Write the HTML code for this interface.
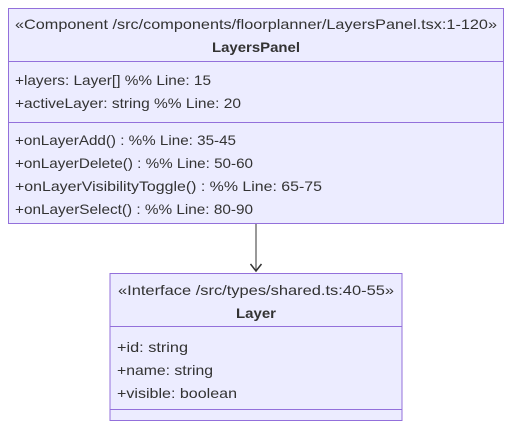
<!DOCTYPE html>
<html><head><meta charset="utf-8"><style>
html,body{margin:0;padding:0;background:#fff;}
svg{display:block;}
text{font-family:"Liberation Sans",sans-serif;font-size:14px;fill:#333;}
</style></head><body>
<svg width="520" height="435" viewBox="0 0 520 435" xmlns="http://www.w3.org/2000/svg">
<rect x="8.5" y="8.5" width="495" height="215" fill="#ECECFF" stroke="#9370DB" stroke-width="1"/>
<line x1="8.5" y1="61.5" x2="503.5" y2="61.5" stroke="#9370DB"/>
<line x1="8.5" y1="122.5" x2="503.5" y2="122.5" stroke="#9370DB"/>
<text x="15" y="29" textLength="482" lengthAdjust="spacingAndGlyphs">«Component /src/components/floorplanner/LayersPanel.tsx:1-120»</text>
<text x="212" y="52" font-weight="bold" textLength="88" lengthAdjust="spacingAndGlyphs" style="font-weight:bold">LayersPanel</text>
<text x="15" y="85" textLength="196" lengthAdjust="spacingAndGlyphs">+layers: Layer[] %% Line: 15</text>
<text x="15" y="108" textLength="226" lengthAdjust="spacingAndGlyphs">+activeLayer: string %% Line: 20</text>
<text x="15" y="145" textLength="221" lengthAdjust="spacingAndGlyphs">+onLayerAdd() : %% Line: 35-45</text>
<text x="15" y="168" textLength="238" lengthAdjust="spacingAndGlyphs">+onLayerDelete() : %% Line: 50-60</text>
<text x="15" y="191" textLength="307" lengthAdjust="spacingAndGlyphs">+onLayerVisibilityToggle() : %% Line: 65-75</text>
<text x="15" y="214" textLength="238" lengthAdjust="spacingAndGlyphs">+onLayerSelect() : %% Line: 80-90</text>
<line x1="256" y1="224" x2="256" y2="270" stroke="#555" stroke-width="1.2"/>
<path d="M250.5 264 L256 271 L261.5 264" fill="none" stroke="#333" stroke-width="1.5"/>
<rect x="110" y="273.5" width="292" height="147" fill="#ECECFF" stroke="#9370DB" stroke-width="1"/>
<line x1="110" y1="326.5" x2="402" y2="326.5" stroke="#9370DB"/>
<line x1="110" y1="409.5" x2="402" y2="409.5" stroke="#9370DB"/>
<text x="118" y="295" textLength="276" lengthAdjust="spacingAndGlyphs">«Interface /src/types/shared.ts:40-55»</text>
<text x="236" y="318" textLength="40" lengthAdjust="spacingAndGlyphs" style="font-weight:bold">Layer</text>
<text x="117" y="352" textLength="71" lengthAdjust="spacingAndGlyphs">+id: string</text>
<text x="117" y="375" textLength="96" lengthAdjust="spacingAndGlyphs">+name: string</text>
<text x="117" y="398" textLength="120" lengthAdjust="spacingAndGlyphs">+visible: boolean</text>
</svg>
</body></html>
